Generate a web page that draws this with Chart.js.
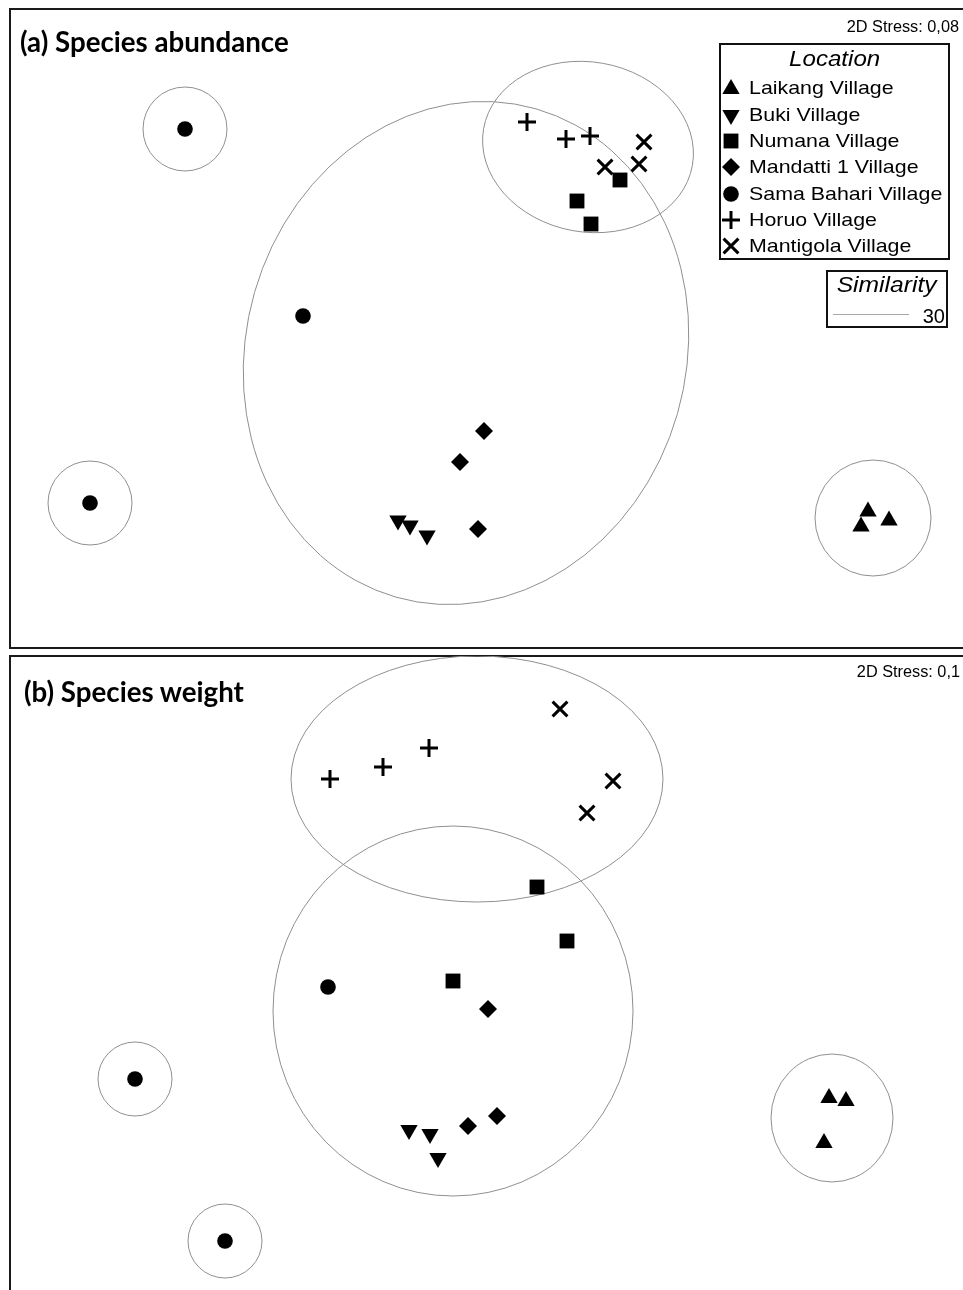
<!DOCTYPE html>
<html>
<head>
<meta charset="utf-8">
<title>nMDS - species abundance and weight</title>
<script src="https://cdn.jsdelivr.net/npm/chart.js@4.4.1/dist/chart.umd.min.js"></script>
<style>
  body { margin: 0; width: 963px; height: 1290px; overflow: hidden; background: #fff; position: relative;
         font-family: "Liberation Sans", Arial, sans-serif; color: #000; }
  .frame { position: absolute; border: 2px solid #1a1a1a; box-sizing: border-box; }
  canvas.plot { position: absolute; }
  .lbl { position: absolute; line-height: 1; white-space: nowrap; }
  .title { font-family: Lato, "Open Sans", sans-serif; font-weight: bold; font-size: 27.7px; }
  .stress { font-size: 16.3px; }
  .box { position: absolute; border: 2px solid #111; box-sizing: border-box; background: #fff; }
  .stretch { display: inline-block; transform: scaleX(1.125); transform-origin: left center; }
  .legrow { position: absolute; left: 749px; font-size: 19px; line-height: 1; white-space: nowrap; }
  .legmark { position: absolute; }
</style>
</head>
<body>
<div class="frame" style="left:9px; top:8px; width:980px; height:641px;"></div>
<div class="frame" style="left:9px; top:655px; width:980px; height:700px;"></div>

<canvas id="chartA" class="plot" width="960" height="640" style="left:11px; top:8px;"></canvas>
<canvas id="chartB" class="plot" width="960" height="640" style="left:11px; top:656px;"></canvas>

<div class="lbl title" style="left:20px; top:28px;">(a) Species abundance</div>
<div class="lbl title" style="left:24px; top:678px;">(b) Species weight</div>
<div class="lbl stress" style="right:4px; top:18px;">2D Stress: 0,08</div>
<div class="lbl stress" style="right:3px; top:663px;">2D Stress: 0,1</div>

<div class="box" style="left:719px; top:43px; width:231px; height:217px;"></div>
<div class="lbl" style="left:719px; top:49px; width:231px; text-align:center; font-size:21.5px; font-style:italic;">
  <span style="display:inline-block; transform:scaleX(1.12);">Location</span></div>
<div id="legend"></div>

<div class="box" style="left:826px; top:270px; width:122px; height:58px;"></div>
<div class="lbl" style="left:826px; top:274px; width:122px; text-align:center; font-size:22px; font-style:italic;">
  <span style="display:inline-block; transform:scaleX(1.12);">Similarity</span></div>
<div style="position:absolute; left:833px; top:314px; width:76px; height:1px; background:#a8a8a8;"></div>
<div class="lbl" style="right:18px; top:306px; font-size:20px;">30</div>

<script>
// sampling locations (legend order)
const locations = ['Laikang Village', 'Buki Village', 'Numana Village', 'Mandatti 1 Village',
                   'Sama Bahari Village', 'Horuo Village', 'Mantigola Village'];

// nMDS coordinates, panel (a) species abundance, one list of [x, y] per location
const abundance = [
  [[1.885, -0.918], [1.85, -0.993], [1.99, -0.963]],
  [[-0.465, -0.963], [-0.405, -0.988], [-0.32, -1.038]],
  [[0.645, 0.74], [0.43, 0.635], [0.5, 0.52]],
  [[-0.035, -0.515], [-0.155, -0.67], [-0.065, -1.005]],
  [[-1.53, 0.995], [-0.94, 0.06], [-2.005, -0.875]],
  [[0.18, 1.03], [0.375, 0.945], [0.495, 0.96]],
  [[0.765, 0.93], [0.57, 0.805], [0.74, 0.82]]
];

// nMDS coordinates, panel (b) species weight
const weight = [
  [[1.69, -0.61], [1.775, -0.625], [1.665, -0.835]],
  [[-0.41, -0.77], [-0.305, -0.79], [-0.265, -0.91]],
  [[0.23, 0.445], [0.38, 0.175], [-0.19, -0.025]],
  [[-0.015, -0.165], [-0.115, -0.75], [0.03, -0.7]],
  [[-0.815, -0.055], [-1.78, -0.515], [-1.33, -1.325]],
  [[-0.805, 0.985], [-0.54, 1.045], [-0.31, 1.14]],
  [[0.345, 1.335], [0.61, 0.975], [0.48, 0.815]]
];

// 30% similarity contours: [centre x, centre y, radius x, radius y, tilt deg]
const contoursA = [
  [-0.125, -0.125, 1.1, 1.27, 16],
  [0.485, 0.905, 0.53, 0.425, 10],
  [-1.53, 0.995, 0.21, 0.21, 0],
  [-2.005, -0.875, 0.21, 0.21, 0],
  [1.91, -0.95, 0.29, 0.29, 0]
];
const contoursB = [
  [-0.07, 0.985, 0.93, 0.615, 0],
  [-0.19, -0.175, 0.9, 0.925, 0],
  [-1.78, -0.515, 0.185, 0.185, 0],
  [-1.33, -1.325, 0.185, 0.185, 0],
  [1.705, -0.71, 0.305, 0.32, 0]
];

// marker look per location
const markerStyle = ['triangle', 'triangle', 'rect', 'rectRot', 'circle', 'cross', 'crossRot'];
const markerRotation = [0, 180, 0, 0, 0, 0, 0];
const markerRadius = [10, 10, 10.5, 9, 7.8, 9, 10.5];
const markerStroke = [0, 0, 0, 0, 0, 3, 3];

const contourPlugin = (list) => ({
  id: 'contours',
  beforeDatasetsDraw(chart) {
    const { ctx, scales: { x, y } } = chart;
    ctx.save();
    ctx.strokeStyle = '#8f8f8f';
    ctx.lineWidth = 1;
    list.forEach(([cx, cy, rx, ry, tilt]) => {
      const px = x.getPixelForValue(cx);
      const py = y.getPixelForValue(cy);
      const rpx = Math.abs(x.getPixelForValue(cx + rx) - px);
      const rpy = Math.abs(y.getPixelForValue(cy + ry) - py);
      ctx.beginPath();
      ctx.ellipse(px, py, rpx, rpy, tilt * Math.PI / 180, 0, Math.PI * 2);
      ctx.stroke();
    });
    ctx.restore();
  }
});

const makeChart = (id, points, contours) => new Chart(document.getElementById(id), {
  type: 'scatter',
  data: {
    datasets: locations.map((name, i) => ({
      label: name,
      data: points[i].map(p => ({ x: p[0], y: p[1] })),
      pointStyle: markerStyle[i],
      pointRotation: markerRotation[i],
      pointRadius: markerRadius[i],
      pointHoverRadius: markerRadius[i],
      borderWidth: markerStroke[i],
      backgroundColor: '#000',
      borderColor: '#000'
    }))
  },
  options: {
    responsive: false,
    animation: false,
    events: [],
    layout: { padding: 0, autoPadding: false },
    plugins: { legend: { display: false }, tooltip: { enabled: false } },
    scales: {
      x: { type: 'linear', min: -2.4, max: 2.4, display: false },
      y: { type: 'linear', min: -1.6, max: 1.6, display: false }
    }
  },
  plugins: [contourPlugin(contours)]
});

makeChart('chartA', abundance, contoursA);
makeChart('chartB', weight, contoursB);

// legend rows
const legend = document.getElementById('legend');
const glyphs = ['\u25B2', '\u25BC', '\u25A0', '\u25C6', '\u25CF', '+', '\u00D7'];
locations.forEach((name, i) => {
  const baseline = 94.5 + i * 26.3;
  const row = document.createElement('div');
  row.className = 'legrow';
  row.style.top = (baseline - 16.1) + 'px';
  row.innerHTML = '<span class="stretch">' + name + '</span>';
  legend.appendChild(row);

  const c = document.createElement('canvas');
  c.width = 24; c.height = 24;
  c.className = 'legmark';
  c.style.left = (731 - 12) + 'px';
  c.style.top = (baseline - 6 - 12) + 'px';
  legend.appendChild(c);
  const g = c.getContext('2d');
  if (Chart.helpers && Chart.helpers.drawPoint) {
    g.fillStyle = '#000';
    g.strokeStyle = '#000';
    g.lineWidth = markerStroke[i];
    Chart.helpers.drawPoint(g, {
      pointStyle: markerStyle[i], rotation: markerRotation[i],
      radius: markerRadius[i], borderWidth: markerStroke[i]
    }, 12, 12);
  } else {
    g.font = '18px "DejaVu Sans"';
    g.textAlign = 'center';
    g.textBaseline = 'middle';
    g.fillText(glyphs[i], 12, 12);
  }
});
</script>
</body>
</html>
